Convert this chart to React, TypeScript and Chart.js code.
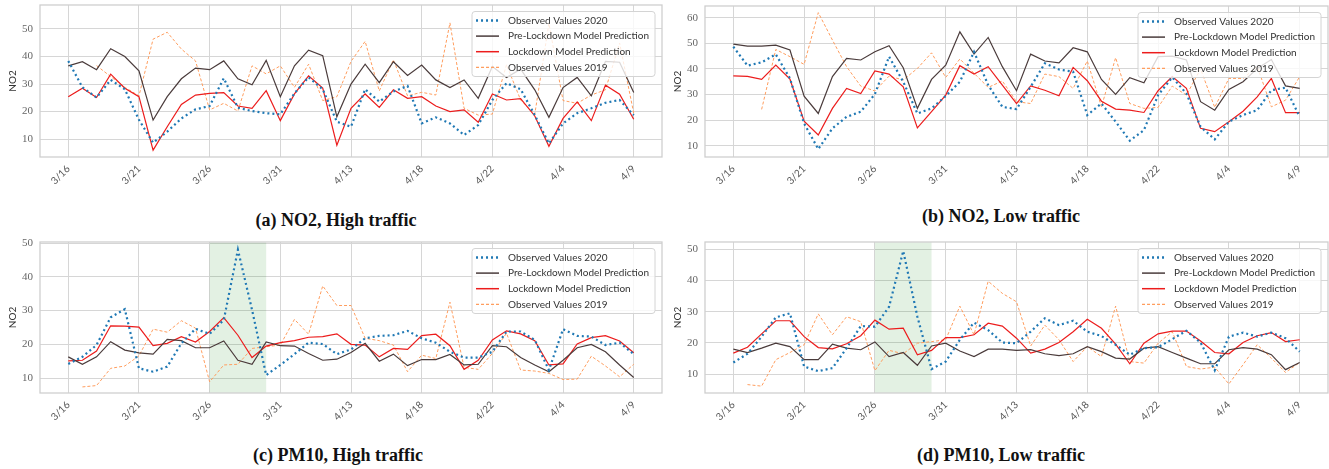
import React, { useEffect, useRef } from 'react';
import { Chart, registerables } from 'chart.js';

Chart.register(...registerables);

// Day labels shown on every fifth point of the 41-day window
const dateLabels = ['3/16', '3/21', '3/26', '3/31', '4/13', '4/18', '4/22', '4/4', '4/9'];
const labelIndices = [0, 5, 10, 15, 20, 25, 30, 35, 40];

const seriesNames = [
  'Observed Values 2020',
  'Pre-Lockdown Model Prediction',
  'Lockdown Model Prediction',
  'Observed Values 2019',
];

// (a) NO2, high traffic
const no2HighObserved2020 = [38.4, 28.8, 25.1, 31.5, 28.1, 17.0, 8.7, 12.7, 17.5, 20.8, 22.0, 32.1, 21.4, 20.2, 19.4, 19.0, 26.6, 32.5, 28.1, 16.3, 14.5, 28.1, 23.6, 27.3, 29.3, 15.7, 17.9, 15.7, 11.5, 15.1, 24.2, 30.3, 28.1, 18.7, 8.4, 15.7, 19.4, 21.2, 23.2, 24.2, 18.7];
const no2HighPreLockdown = [36.6, 38.1, 35.2, 42.8, 40.0, 34.8, 16.9, 25.4, 31.9, 35.8, 35.2, 38.4, 31.9, 29.7, 38.6, 25.4, 36.6, 42.3, 40.3, 18.1, 30.0, 37.2, 30.5, 38.1, 33.1, 36.9, 31.5, 28.7, 31.5, 24.8, 36.4, 32.4, 35.4, 27.9, 17.9, 28.7, 32.4, 25.7, 38.2, 37.9, 26.9];
const no2HighLockdown = [25.4, 28.5, 25.1, 33.6, 28.5, 25.4, 6.0, 14.5, 22.6, 26.0, 26.6, 26.9, 22.0, 21.2, 27.6, 16.7, 26.4, 33.0, 28.5, 7.8, 21.2, 26.4, 21.5, 27.9, 24.8, 25.4, 22.0, 20.0, 20.6, 16.1, 26.4, 24.2, 24.7, 18.4, 7.4, 17.5, 23.5, 16.7, 29.6, 26.3, 17.2];
const no2HighObserved2019 = [null, null, 36.7, 32.7, 28.8, 25.7, 46.3, 48.8, 42.7, 38.4, 20.6, 23.0, 20.2, 36.6, 33.7, 36.6, 28.8, 37.2, 24.0, 25.4, 38.2, 45.5, 27.5, 38.8, 25.7, 27.0, 26.0, 52.2, 21.2, 18.7, 19.1, 37.0, 24.2, 19.0, 52.0, 24.0, 23.0, 26.0, 27.9, 44.9, 19.4];

// (b) NO2, low traffic
const no2LowObserved2020 = [48.7, 41.3, 42.6, 45.7, 36.3, 18.7, 8.7, 16.8, 21.3, 23.3, 30.2, 44.8, 35.0, 22.6, 24.6, 29.4, 35.0, 46.7, 33.7, 25.2, 24.3, 33.0, 42.2, 39.8, 38.9, 22.0, 26.5, 19.4, 12.0, 16.1, 29.8, 36.7, 30.4, 17.4, 12.5, 19.4, 22.0, 23.9, 31.7, 32.7, 21.3];
const no2LowPreLockdown = [49.7, 48.9, 48.9, 49.3, 47.4, 29.4, 22.6, 37.0, 44.1, 43.5, 46.7, 49.1, 40.5, 24.6, 35.9, 41.5, 54.5, 45.8, 52.3, 40.9, 31.5, 45.8, 43.1, 42.4, 48.3, 46.7, 35.9, 30.1, 36.6, 34.6, 44.8, 45.0, 43.5, 27.2, 23.9, 32.0, 35.0, 40.2, 43.7, 33.4, 32.4];
const no2LowLockdown = [37.3, 37.1, 35.9, 41.5, 36.0, 19.6, 14.2, 24.6, 32.4, 30.4, 39.2, 38.0, 33.0, 17.0, 23.3, 29.8, 41.3, 38.0, 40.9, 33.7, 26.5, 33.4, 31.7, 29.5, 40.6, 35.4, 27.4, 24.3, 23.9, 23.0, 31.5, 37.0, 32.4, 16.8, 15.5, 19.4, 23.5, 29.1, 36.3, 22.9, 22.9];
const no2LowObserved2019 = [null, null, 24.2, 47.6, 44.8, 41.8, 62.0, 51.3, 40.9, 33.3, 31.4, 37.2, 35.7, 40.2, 46.3, 36.7, 43.9, 38.3, 32.8, 35.3, 27.2, 26.5, 38.0, 37.0, 32.4, 43.1, 25.2, 44.4, 26.5, 24.6, 25.0, 33.3, 29.8, 40.0, 25.0, 36.3, 36.3, 41.0, 25.2, 27.8, 37.0];

// (c) PM10, high traffic
const pm10HighObserved2020 = [14.2, 16.3, 19.8, 28.0, 30.4, 12.9, 11.9, 13.4, 20.3, 24.6, 23.1, 27.2, 48.0, 30.2, 10.9, 13.9, 17.1, 20.5, 20.1, 17.1, 18.5, 21.8, 22.5, 22.7, 24.0, 21.8, 20.5, 17.8, 16.1, 16.1, 17.8, 23.8, 23.8, 21.3, 12.4, 24.5, 22.5, 22.3, 19.8, 20.5, 17.1];
const pm10HighPreLockdown = [16.3, 14.1, 16.3, 20.8, 18.3, 17.5, 17.1, 21.5, 21.1, 19.0, 19.0, 21.0, 15.3, 14.1, 20.7, 19.6, 19.5, 17.3, 15.3, 15.6, 17.6, 20.3, 15.0, 17.1, 13.7, 15.5, 15.5, 17.0, 13.9, 14.1, 19.6, 19.3, 16.1, 13.9, 11.9, 15.3, 19.0, 20.0, 17.8, 13.9, 10.2];
const pm10HighLockdown = [15.1, 15.3, 18.0, 25.5, 25.4, 25.1, 19.6, 20.3, 22.3, 20.7, 23.8, 27.9, 22.7, 16.1, 19.5, 20.5, 21.1, 22.1, 22.3, 23.1, 20.0, 19.8, 16.3, 18.8, 18.5, 22.6, 23.0, 19.6, 12.6, 15.3, 21.3, 24.0, 23.1, 21.1, 13.9, 14.2, 20.1, 22.0, 22.6, 21.0, 17.5];
const pm10HighObserved2019 = [null, 7.4, 7.8, 12.9, 13.6, 16.6, 24.5, 23.6, 27.0, 24.8, 8.9, 13.9, 14.1, 18.8, 19.3, 19.8, 27.4, 23.0, 37.3, 31.5, 31.5, 21.8, 21.1, 19.8, 11.9, 16.8, 15.8, 32.5, 13.2, 12.6, 17.3, 23.3, 12.4, 12.1, 11.4, 9.6, 9.7, 16.5, 13.6, 10.4, 14.1];

// (d) PM10, low traffic
const pm10LowObserved2020 = [13.7, 16.5, 22.0, 28.2, 29.5, 12.4, 10.9, 11.9, 18.3, 25.4, 25.2, 31.6, 49.5, 28.4, 11.6, 14.0, 21.0, 26.5, 24.1, 20.1, 19.9, 23.6, 27.9, 25.7, 27.1, 23.6, 22.2, 19.4, 16.2, 18.3, 18.6, 21.2, 23.9, 20.1, 11.2, 22.0, 23.3, 22.0, 23.3, 21.5, 17.2];
const pm10LowPreLockdown = [18.0, 16.9, 18.3, 19.9, 18.8, 14.6, 14.6, 19.6, 18.3, 17.8, 20.3, 15.6, 16.9, 12.8, 19.0, 19.9, 17.4, 15.6, 18.0, 18.0, 17.6, 17.8, 16.5, 15.9, 16.5, 18.8, 17.2, 15.1, 14.8, 18.3, 18.8, 16.9, 15.1, 13.3, 13.3, 17.8, 18.5, 18.0, 16.2, 11.4, 13.7];
const pm10LowLockdown = [16.7, 18.6, 22.9, 27.1, 27.1, 22.0, 18.5, 18.1, 19.7, 22.3, 27.3, 24.4, 24.7, 16.2, 17.6, 21.7, 21.7, 22.6, 26.3, 25.4, 21.5, 16.7, 18.0, 20.1, 23.6, 27.6, 24.7, 19.6, 13.3, 19.9, 22.9, 23.8, 23.8, 20.6, 16.9, 16.5, 20.1, 22.3, 23.3, 20.4, 21.0];
const pm10LowObserved2019 = [null, 6.6, 6.1, 14.6, 16.9, 19.4, 29.3, 22.6, 28.4, 26.8, 11.1, 17.6, 16.5, 19.9, 20.4, 21.0, 31.8, 22.6, 39.8, 35.9, 33.2, 19.0, 25.7, 21.0, 14.0, 18.8, 15.6, 31.8, 14.0, 13.5, 19.9, 23.6, 12.4, 11.6, 12.2, 6.8, 13.0, 19.4, 15.1, 10.5, 13.7];

// Highlighted interval (day indices) in the PM10 panels
const pm10Highlight = [10, 14];

const lineStyles = [
  { color: '#1f78b4', width: 2.2, dash: [2, 3], legendWidth: 2.4 },
  { color: '#4a3b3b', width: 1.2, dash: [] as number[], legendWidth: 1.5 },
  { color: '#ec1c1c', width: 1.2, dash: [] as number[], legendWidth: 1.5 },
  { color: '#ff9d5e', width: 1.0, dash: [3, 2], legendWidth: 1.2 },
];

const GRID = '#d6d6d6';
const FRAME = '#cfcfcf';

type Series = (number | null)[];

interface PanelProps {
  values: Series[];
  yMin: number;
  yMax: number;
  yTicks: number[];
  highlight?: number[];
  left: number;
  top: number;
  width: number;
  padTop: number;
  caption: string;
  captionCenter: number;
  captionTop: number;
}

const frameAndShade = {
  id: 'frameAndShade',
  beforeDatasetsDraw(chart: any, _args: any, opts: any) {
    const { ctx, chartArea, scales } = chart;
    ctx.save();
    if (opts.highlight) {
      const x0 = scales.x.getPixelForValue(opts.highlight[0]);
      const x1 = scales.x.getPixelForValue(opts.highlight[1]);
      ctx.fillStyle = 'rgba(0, 128, 0, 0.11)';
      ctx.fillRect(x0, chartArea.top, x1 - x0, chartArea.bottom - chartArea.top);
    }
    ctx.strokeStyle = FRAME;
    ctx.lineWidth = 1.3;
    ctx.strokeRect(chartArea.left, chartArea.top, chartArea.right - chartArea.left, chartArea.bottom - chartArea.top);
    ctx.restore();
  },
};

const boxLegend = {
  id: 'boxLegend',
  afterDraw(chart: any) {
    const { ctx, chartArea } = chart;
    ctx.save();
    ctx.font = '10px Lato';
    const textWidth = Math.max(...seriesNames.map((n) => ctx.measureText(n).width));
    const boxW = 4 + 23 + 9 + textWidth + 6;
    const boxH = 65;
    const rowH = 15.6;
    const x = chartArea.right - 7 - boxW;
    const y = chartArea.top + 6.5;
    ctx.beginPath();
    ctx.roundRect(x, y, boxW, boxH, 3);
    ctx.fillStyle = 'rgba(255,255,255,0.8)';
    ctx.fill();
    ctx.strokeStyle = '#d4d4d4';
    ctx.lineWidth = 1;
    ctx.stroke();
    seriesNames.forEach((name, k) => {
      const st = lineStyles[k];
      const cy = y + 9 + k * rowH;
      ctx.beginPath();
      ctx.setLineDash(st.dash);
      ctx.strokeStyle = st.color;
      ctx.lineWidth = st.legendWidth;
      ctx.moveTo(x + 4, cy);
      ctx.lineTo(x + 27, cy);
      ctx.stroke();
      ctx.setLineDash([]);
      ctx.fillStyle = '#333333';
      ctx.textBaseline = 'middle';
      ctx.textAlign = 'left';
      ctx.fillText(name, x + 36, cy);
    });
    ctx.restore();
  },
};

function Panel(props: PanelProps) {
  const ref = useRef<HTMLCanvasElement | null>(null);

  useEffect(() => {
    if (!ref.current) return;
    const days = props.values[0].map((_, i) => i);
    const chart = new Chart(ref.current, {
      type: 'line',
      data: {
        datasets: props.values.map((vals, k) => ({
          label: seriesNames[k],
          data: vals.map((v, i) => ({ x: days[i], y: v })),
          borderColor: lineStyles[k].color,
          borderWidth: lineStyles[k].width,
          borderDash: lineStyles[k].dash,
          pointRadius: 0,
          fill: false,
          tension: 0,
          spanGaps: false,
        })),
      },
      options: {
        responsive: false,
        animation: false,
        events: [],
        layout: { padding: { top: props.padTop, right: 1, left: 0, bottom: 0 } },
        plugins: {
          legend: { display: false },
          tooltip: { enabled: false },
          frameAndShade: { highlight: props.highlight },
        } as any,
        scales: {
          x: {
            type: 'linear',
            min: -2,
            max: 42,
            grid: { color: GRID, lineWidth: 1, drawTicks: false },
            border: { display: false },
            afterBuildTicks: (scale: any) => {
              scale.ticks = labelIndices.map((v) => ({ value: v }));
            },
            afterFit: (scale: any) => {
              scale.height = 40;
              scale.paddingLeft = 0;
              scale.paddingRight = 0;
            },
            ticks: {
              autoSkip: false,
              minRotation: 45,
              maxRotation: 45,
              padding: 6,
              color: '#555555',
              font: { family: 'Lato', size: 10 },
              callback: (value: any) => dateLabels[labelIndices.indexOf(Number(value))] ?? '',
            },
          },
          y: {
            type: 'linear',
            min: props.yMin,
            max: props.yMax,
            grid: { color: GRID, lineWidth: 1, drawTicks: false },
            border: { display: false },
            afterBuildTicks: (scale: any) => {
              scale.ticks = props.yTicks.map((v) => ({ value: v }));
            },
            afterFit: (scale: any) => {
              scale.width = 40;
              scale.paddingTop = 0;
              scale.paddingBottom = 0;
            },
            ticks: {
              padding: 7,
              color: '#666666',
              font: { family: 'Liberation Serif', size: 11 },
            },
            title: {
              display: true,
              text: 'NO2',
              color: '#333333',
              font: { family: 'Lato', size: 10 },
              padding: { top: 7, bottom: 0 },
            },
          },
        },
      },
      plugins: [frameAndShade, boxLegend],
    } as any);
    return () => chart.destroy();
  }, []);

  return (
    <>
      <canvas
        ref={ref}
        width={props.width}
        height={197}
        style={{ position: 'absolute', left: props.left, top: props.top, width: props.width, height: 197 }}
      />
      <div
        style={{
          position: 'absolute',
          left: props.captionCenter - 200,
          width: 400,
          top: props.captionTop,
          textAlign: 'center',
          fontFamily: '"Liberation Serif", "DejaVu Serif", serif',
          fontWeight: 'bold',
          fontSize: 18,
          lineHeight: '20px',
          color: '#111',
          whiteSpace: 'nowrap',
        }}
      >
        {props.caption}
      </div>
    </>
  );
}

export default function App() {
  return (
    <div
      style={{
        position: 'absolute',
        left: 0,
        top: 0,
        width: 1329,
        height: 469,
        overflow: 'hidden',
        background: '#ffffff',
      }}
    >
      <Panel
        values={[no2HighObserved2020, no2HighPreLockdown, no2HighLockdown, no2HighObserved2019]}
        yMin={3.5}
        yMax={58.7}
        yTicks={[10, 20, 30, 40, 50]}
        left={0}
        top={0}
        width={663}
        padTop={5}
        caption="(a) NO2, High traffic"
        captionCenter={336}
        captionTop={210}
      />
      <Panel
        values={[no2LowObserved2020, no2LowPreLockdown, no2LowLockdown, no2LowObserved2019]}
        yMin={5.6}
        yMax={64.6}
        yTicks={[10, 20, 30, 40, 50, 60]}
        left={665}
        top={0}
        width={664}
        padTop={6}
        caption="(b) NO2, Low traffic"
        captionCenter={1001}
        captionTop={206}
      />
      <Panel
        values={[pm10HighObserved2020, pm10HighPreLockdown, pm10HighLockdown, pm10HighObserved2019]}
        yMin={5.6}
        yMax={50.3}
        yTicks={[10, 20, 30, 40, 50]}
        highlight={pm10Highlight}
        left={0}
        top={236}
        width={663}
        padTop={6}
        caption="(c) PM10, High traffic"
        captionCenter={338}
        captionTop={445}
      />
      <Panel
        values={[pm10LowObserved2020, pm10LowPreLockdown, pm10LowLockdown, pm10LowObserved2019]}
        yMin={3.9}
        yMax={52.4}
        yTicks={[10, 20, 30, 40, 50]}
        highlight={pm10Highlight}
        left={665}
        top={236}
        width={664}
        padTop={6}
        caption="(d) PM10, Low traffic"
        captionCenter={1001}
        captionTop={445}
      />
    </div>
  );
}
